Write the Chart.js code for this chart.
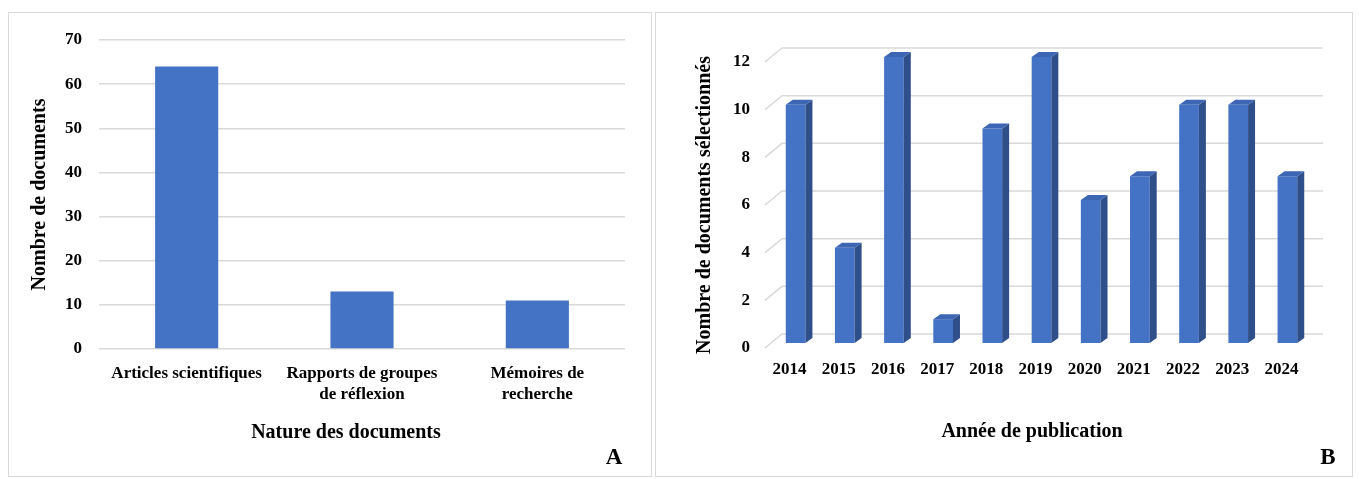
<!DOCTYPE html>
<html lang="fr">
<head>
    <meta charset="UTF-8">
    <title>Nature et année des documents</title>
    <script src="https://cdn.jsdelivr.net/npm/chart.js"></script>
    <style>
        body {
            margin: 0;
            background: #fff;
            font-family: "Liberation Serif", "Times New Roman", serif;
        }
        .panel {
            position: absolute;
            top: 12px;
            height: 463px;
            border: 1.5px solid #d9d9d9;
        }
        canvas {
            position: absolute;
            top: 0;
        }
        .caption {
            position: absolute;
            transform: translate(-50%, -50%);
            font-weight: bold;
            font-size: 20px;
            line-height: 1;
            color: #000;
            white-space: nowrap;
        }
        .letter {
            font-size: 23px;
        }
    </style>
</head>
<body>
    <div class="panel" style="left:8px; width:642px;"></div>
    <div class="panel" style="left:655px; width:696px;"></div>

    <canvas id="natureChart" width="652" height="479" style="left:0"></canvas>
    <canvas id="yearChart" width="704" height="479" style="left:655px"></canvas>

    <div class="caption" style="left:346px; top:431px;">Nature des documents</div>
    <div class="caption letter" style="left:614px; top:456px;">A</div>
    <div class="caption" style="left:1032px; top:430px;">Année de publication</div>
    <div class="caption letter" style="left:1328px; top:456px;">B</div>

    <script>
        // Données du graphique A
        const natureLabels = ['Articles scientifiques', ['Rapports de groupes', 'de réflexion'], ['Mémoires de', 'recherche']];
        const natureCounts = [64, 13, 11];

        // Données du graphique B
        const years = ['2014', '2015', '2016', '2017', '2018', '2019', '2020', '2021', '2022', '2023', '2024'];
        const yearCounts = [10, 4, 12, 1, 9, 12, 6, 7, 10, 10, 7];

        const tickFont = { family: 'Liberation Serif', size: 17, weight: 'bold', lineHeight: 1.25 };
        const titleFont = { family: 'Liberation Serif', size: 20, weight: 'bold' };
        const gridColor = '#d9d9d9';

        // Graphique A : colonnes simples
        new Chart(document.getElementById('natureChart'), {
            type: 'bar',
            data: {
                labels: natureLabels,
                datasets: [{
                    data: natureCounts,
                    backgroundColor: '#4472c4',
                    categoryPercentage: 1,
                    barPercentage: 0.36
                }]
            },
            options: {
                responsive: false,
                animation: false,
                layout: { padding: { left: 28, top: 40, right: 27, bottom: 35 } },
                plugins: { legend: { display: false }, tooltip: { enabled: false } },
                scales: {
                    x: {
                        grid: { display: false },
                        border: { display: false },
                        ticks: { color: '#000', font: tickFont, padding: 6, maxRotation: 0 },
                        afterFit: scale => { scale.height = 95; }
                    },
                    y: {
                        min: 0,
                        max: 70,
                        ticks: { stepSize: 10, color: '#000', font: tickFont, padding: 17 },
                        grid: { color: gridColor, lineWidth: 1.5, drawTicks: false },
                        border: { display: false },
                        title: { display: true, text: 'Nombre de documents', color: '#000', font: titleFont, padding: 0 },
                        afterFit: scale => { scale.width = 71; }
                    }
                }
            }
        });

        // Effet 3D : mur du fond et faces des colonnes
        const depth = { wallX: 17, wallY: 14, barX: 7, barY: 5, shiftX: 6, shiftY: -5 };
        const fake3d = {
            id: 'fake3d',
            beforeDatasetsDraw(chart) {
                const { ctx, chartArea, scales } = chart;
                ctx.save();
                ctx.strokeStyle = gridColor;
                ctx.lineWidth = 1.5;
                scales.y.ticks.forEach(t => {
                    const y = scales.y.getPixelForValue(t.value);
                    ctx.beginPath();
                    ctx.moveTo(chartArea.left, y);
                    ctx.lineTo(chartArea.left + depth.wallX, y - depth.wallY);
                    ctx.lineTo(chartArea.right + depth.wallX, y - depth.wallY);
                    ctx.stroke();
                });
                ctx.restore();
                ctx.save();
                ctx.translate(depth.shiftX, depth.shiftY);
            },
            afterDatasetsDraw(chart) {
                const { ctx } = chart;
                chart.getDatasetMeta(0).data.forEach(bar => {
                    const { x, y, base, width } = bar.getProps(['x', 'y', 'base', 'width'], true);
                    const l = x - width / 2, r = x + width / 2;
                    ctx.fillStyle = '#2f4f8a';
                    ctx.beginPath();
                    ctx.moveTo(r, y);
                    ctx.lineTo(r + depth.barX, y - depth.barY);
                    ctx.lineTo(r + depth.barX, base - depth.barY);
                    ctx.lineTo(r, base);
                    ctx.closePath();
                    ctx.fill();
                    ctx.fillStyle = '#3c66b3';
                    ctx.beginPath();
                    ctx.moveTo(l, y);
                    ctx.lineTo(l + depth.barX, y - depth.barY);
                    ctx.lineTo(r + depth.barX, y - depth.barY);
                    ctx.lineTo(r, y);
                    ctx.closePath();
                    ctx.fill();
                });
                ctx.restore();
            }
        };

        // Graphique B : colonnes 3D par année
        new Chart(document.getElementById('yearChart'), {
            type: 'bar',
            data: {
                labels: years,
                datasets: [{
                    data: yearCounts,
                    backgroundColor: '#4472c4',
                    categoryPercentage: 1,
                    barPercentage: 0.4
                }]
            },
            options: {
                responsive: false,
                animation: false,
                layout: { padding: { left: 38, top: 62, right: 53, bottom: 37 } },
                plugins: { legend: { display: false }, tooltip: { enabled: false } },
                scales: {
                    x: {
                        grid: { display: false },
                        border: { display: false },
                        ticks: { color: '#000', font: tickFont, padding: 3, maxRotation: 0 },
                        afterFit: scale => { scale.height = 94; }
                    },
                    y: {
                        min: 0,
                        max: 12,
                        ticks: { stepSize: 2, color: '#000', font: tickFont, padding: 15 },
                        grid: { display: false, drawTicks: false },
                        border: { display: false },
                        title: { display: true, text: 'Nombre de documents sélectionnés', color: '#000', font: titleFont, padding: 0 },
                        afterFit: scale => { scale.width = 72; }
                    }
                }
            },
            plugins: [fake3d]
        });
    </script>
</body>
</html>
